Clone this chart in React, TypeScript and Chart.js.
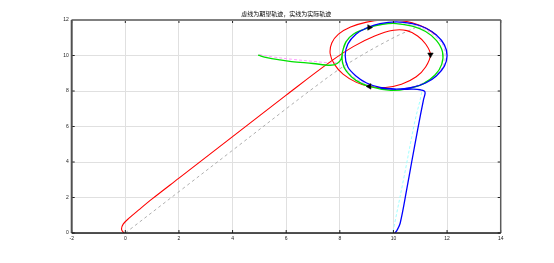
import React, { useEffect, useRef } from "react";
import { Chart, registerables } from "chart.js";

Chart.register(...registerables);

const titleText = "虚线为期望轨迹，实线为实际轨迹";
const xTicks = [-2, 0, 2, 4, 6, 8, 10, 12, 14];
const yTicks = [0, 2, 4, 6, 8, 10, 12];

const redX = [-0.05, -0.14, -0.08, 0.15, 0.5, 1.0, 2, 4, 6, 7.6, 8.5, 9.3, 10.0, 10.5, 10.9, 11.2, 11.38, 11.2, 10.85, 10.3, 9.7, 9.1, 8.6, 8.12, 7.8, 7.64, 7.7, 7.95, 8.4, 9.0, 9.6, 10.2, 10.7, 11.2, 11.6];
const redY = [0, 0.2, 0.5, 0.85, 1.3, 1.92, 3.09, 5.43, 7.77, 9.6, 10.5, 11.1, 11.42, 11.4, 11.1, 10.65, 10.05, 9.35, 8.8, 8.38, 8.2, 8.25, 8.5, 8.95, 9.5, 10.1, 10.7, 11.2, 11.6, 11.88, 12.0, 11.98, 11.85, 11.55, 11.15];

const greenX = [4.95, 5.28, 5.77, 6.2, 7.0, 7.64, 7.9, 8.05, 8.1, 8.22, 8.5, 9.1, 9.6, 10.1, 10.7, 11.2, 11.6, 11.83, 11.8, 11.55, 11.1, 10.5, 9.9, 9.1, 8.6, 8.25, 8.1, 8.1, 8.22];
const greenY = [10.02, 9.88, 9.75, 9.66, 9.55, 9.45, 9.55, 9.8, 10.2, 10.75, 11.2, 11.58, 11.76, 11.8, 11.65, 11.35, 10.85, 10.2, 9.5, 8.9, 8.4, 8.12, 8.04, 8.26, 8.6, 9.1, 9.6, 10.2, 10.75];

const blueX = [10.05, 10.12, 10.25, 10.5, 10.68, 10.9, 11.12, 11.18, 11.15, 11.0, 10.75, 10.2, 9.5, 9.0, 8.6, 8.3, 8.2, 8.3, 8.6, 9.0, 9.5, 10.1, 10.7, 11.2, 11.6, 11.9, 12.0, 11.9, 11.6, 11.2, 10.7, 10.1, 9.5];
const blueY = [0, 0.12, 0.55, 2.5, 4.0, 5.8, 7.5, 7.87, 8.0, 8.07, 8.1, 8.1, 8.2, 8.45, 8.85, 9.35, 10.0, 10.65, 11.2, 11.55, 11.8, 11.9, 11.8, 11.55, 11.15, 10.6, 10.0, 9.4, 8.85, 8.45, 8.2, 8.1, 8.17];

const grayX = [0, 2, 4, 6, 7, 8, 8.8, 9.5, 10.2, 10.8];
const grayY = [0, 2.33, 4.66, 7.0, 8.15, 9.25, 10.0, 10.6, 11.15, 11.55];

const magentaX = [5.0, 5.5, 6.2, 7.0, 7.7, 8.0];
const magentaY = [10.05, 9.92, 9.79, 9.67, 9.58, 9.6];

const cyanX = [9.98, 10.4, 10.8, 11.05, 11.0];
const cyanY = [0.05, 3.2, 6.3, 7.9, 8.05];

const ringX = [10.0, 10.65, 11.15, 11.55, 11.85, 11.93, 11.85, 11.55, 11.15, 10.65, 10.0, 9.35, 8.85, 8.45, 8.17, 8.08, 8.17, 8.45, 8.85, 9.35, 10.0];
const ringY = [11.85, 11.73, 11.48, 11.1, 10.57, 9.98, 9.4, 8.86, 8.48, 8.22, 8.08, 8.22, 8.48, 8.86, 9.4, 9.98, 10.57, 11.1, 11.48, 11.73, 11.85];

const arrowX = [9.1, 11.38, 9.1];
const arrowY = [11.58, 10.05, 8.26];
const arrowRot = [90, 180, 270];

const pts = (xs: number[], ys: number[]) => xs.map((x, i) => ({ x, y: ys[i] }));

const framePlugin = {
  id: "frame",
  afterDraw(chart: any) {
    const { ctx, chartArea } = chart;
    const { left, right, top, bottom } = chartArea;
    const xs = chart.scales.x;
    const ys = chart.scales.y;
    ctx.save();
    ctx.lineCap = "butt";
    ctx.strokeStyle = "#222";
    ctx.lineWidth = 1;
    xTicks.forEach((t) => {
      const px = xs.getPixelForValue(t);
      ctx.beginPath();
      ctx.moveTo(px, bottom);
      ctx.lineTo(px, bottom - 3);
      ctx.moveTo(px, top);
      ctx.lineTo(px, top + 3);
      ctx.stroke();
    });
    yTicks.forEach((t) => {
      const py = ys.getPixelForValue(t);
      ctx.beginPath();
      ctx.moveTo(left, py);
      ctx.lineTo(left + 3, py);
      ctx.moveTo(right, py);
      ctx.lineTo(right - 3, py);
      ctx.stroke();
    });
    ctx.strokeStyle = "#808080";
    ctx.lineWidth = 2;
    ctx.beginPath();
    ctx.moveTo(left, top);
    ctx.lineTo(right, top);
    ctx.stroke();
    ctx.strokeStyle = "#5a5a5a";
    ctx.lineWidth = 1.5;
    ctx.beginPath();
    ctx.moveTo(right, top);
    ctx.lineTo(right, bottom);
    ctx.stroke();
    ctx.strokeStyle = "#505050";
    ctx.lineWidth = 2;
    ctx.beginPath();
    ctx.moveTo(left, top);
    ctx.lineTo(left, bottom);
    ctx.stroke();
    ctx.strokeStyle = "#1a1a1a";
    ctx.lineWidth = 1.5;
    ctx.beginPath();
    ctx.moveTo(left, bottom);
    ctx.lineTo(right, bottom);
    ctx.stroke();
    ctx.fillStyle = "#000";
    ctx.font = "6px 'Noto Sans CJK SC'";
    ctx.textAlign = "center";
    ctx.textBaseline = "middle";
    ctx.fillText(titleText, (left + right) / 2, 13.5);
    ctx.restore();
  },
};

export default function App() {
  const ref = useRef<HTMLCanvasElement | null>(null);
  useEffect(() => {
    document.body.style.margin = "0";
    const line = (data: any, color: string, width: number, order: number, dash: number[] = []) => ({
      data,
      showLine: true,
      borderColor: color,
      borderWidth: width,
      borderDash: dash,
      pointRadius: 0,
      fill: false,
      tension: 0.35,
      order,
    });
    const chart = new Chart(ref.current as HTMLCanvasElement, {
      type: "scatter",
      data: {
        datasets: [
          {
            data: pts(arrowX, arrowY),
            pointStyle: "triangle",
            pointRadius: 3.2,
            pointRotation: arrowRot,
            backgroundColor: "#000",
            borderColor: "#000",
            borderWidth: 0.5,
            showLine: false,
            order: 0,
          } as any,
          line(pts(blueX, blueY), "#0000ff", 1.3, 1),
          line(pts(greenX, greenY), "#00e000", 1.3, 2),
          line(pts(redX, redY), "#ff0000", 1.1, 3),
          line(pts(ringX, ringY), "#e0a8ff", 1, 4, [3, 2]),
          line(pts(magentaX, magentaY), "#ff9cff", 1, 5, [3, 2]),
          line(pts(cyanX, cyanY), "#a0ffff", 1, 6, [3, 2]),
          line(pts(grayX, grayY), "#9a9a9a", 0.8, 7, [3, 3]),
        ],
      },
      options: {
        animation: false,
        responsive: false,
        layout: { padding: { top: 20, right: 53.3, left: 0, bottom: 0 } },
        plugins: { legend: { display: false }, title: { display: false }, tooltip: { enabled: false } },
        scales: {
          x: {
            type: "linear",
            min: -2,
            max: 14,
            afterFit: (s: any) => { s.height = 30; },
            border: { display: false },
            grid: { color: "#e0e0e0", lineWidth: 1, drawTicks: false },
            ticks: { stepSize: 2, padding: 2.5, color: "#222", font: { size: 5, family: "'Liberation Sans', Arial" } },
          },
          y: {
            type: "linear",
            min: 0,
            max: 12,
            afterFit: (s: any) => { s.width = 71.7; },
            border: { display: false },
            grid: { color: "#e0e0e0", lineWidth: 1, drawTicks: false },
            ticks: { stepSize: 2, padding: 3, color: "#222", font: { size: 5, family: "'Liberation Sans', Arial" } },
          },
        },
      },
      plugins: [framePlugin],
    });
    return () => chart.destroy();
  }, []);
  return (
    <div style={{ position: "absolute", left: 0, top: 0, width: 554, height: 263 }}>
      <canvas ref={ref} width={554} height={263} />
    </div>
  );
}
